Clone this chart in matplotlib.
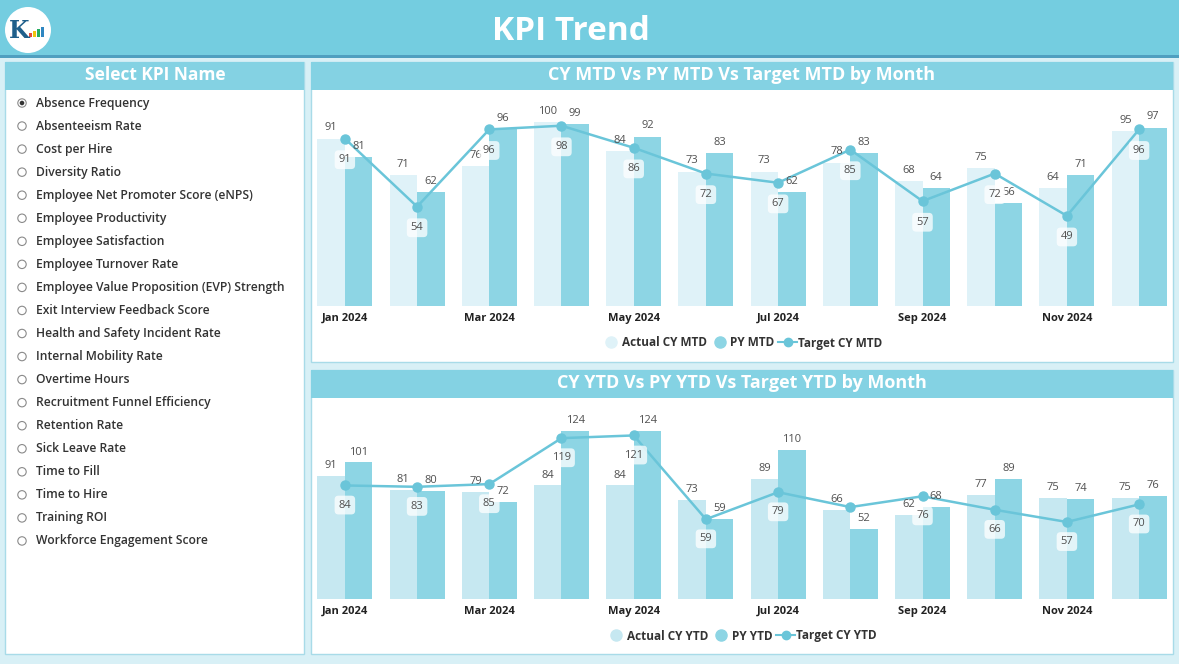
import numpy as np
import matplotlib
matplotlib.use("Agg")
import matplotlib.pyplot as plt
from matplotlib.patches import Rectangle, Circle
from matplotlib.lines import Line2D

plt.rcParams['font.family'] = ['Open Sans', 'DejaVu Sans']

# Data
months = ['Jan 2024', 'Feb 2024', 'Mar 2024', 'Apr 2024', 'May 2024', 'Jun 2024',
          'Jul 2024', 'Aug 2024', 'Sep 2024', 'Oct 2024', 'Nov 2024', 'Dec 2024']

actual_mtd = [91, 71, 76, 100, 84, 73, 73, 78, 68, 75, 64, 95]
py_mtd = [81, 62, 96, 99, 92, 83, 62, 83, 64, 56, 71, 97]
target_mtd = [91, 54, 96, 98, 86, 72, 67, 85, 57, 72, 49, 96]

actual_ytd = [91, 81, 79, 84, 84, 73, 89, 66, 62, 77, 75, 75]
py_ytd = [101, 80, 72, 124, 124, 59, 110, 52, 68, 89, 74, 76]
target_ytd = [84, 83, 85, 119, 121, 59, 79, 68, 76, 66, 57, 70]

kpi_names = ['Absence Frequency', 'Absenteeism Rate', 'Cost per Hire', 'Diversity Ratio',
             'Employee Net Promoter Score (eNPS)', 'Employee Productivity',
             'Employee Satisfaction', 'Employee Turnover Rate',
             'Employee Value Proposition (EVP) Strength', 'Exit Interview Feedback Score',
             'Health and Safety Incident Rate', 'Internal Mobility Rate', 'Overtime Hours',
             'Recruitment Funnel Efficiency', 'Retention Rate', 'Sick Leave Rate',
             'Time to Fill', 'Time to Hire', 'Training ROI', 'Workforce Engagement Score']

# Colours
bg = '#d8f0f6'
header = '#74cde0'
header_line = '#4f9fc0'
title_bar = '#84d2e3'
panel_edge = '#a8dbe8'
light_top = '#dff2f8'
light_bot = '#c6e8f1'
dark_bar = '#8dd5e4'
line_col = '#6ac5d9'
txt = '#505050'

W, H = 1179, 664
fig = plt.figure(figsize=(W / 100, H / 100), dpi=100)
fig.patch.set_facecolor(bg)

# background canvas in pixel coordinates
bgax = fig.add_axes([0, 0, 1, 1], zorder=0)
bgax.set_xlim(0, W)
bgax.set_ylim(H, 0)
bgax.axis('off')


def px_axes(x, y, w, h):
    return fig.add_axes([x / W, 1 - (y + h) / H, w / W, h / H], zorder=2)


# header
bgax.add_patch(Rectangle((0, 0), W, 56, facecolor=header, edgecolor='none'))
bgax.add_patch(Rectangle((0, 55), W, 2.5, facecolor=header_line, edgecolor='none'))
bgax.text(571, 31, 'KPI Trend', color='white', fontsize=24, fontweight='bold',
          ha='center', va='center')

# logo
bgax.add_patch(Circle((28, 30), 23, facecolor='white', edgecolor='none'))
bgax.text(19, 31, 'K', color='#1f5f8b', fontsize=17, fontweight='bold',
          ha='center', va='center', family='DejaVu Serif')
for i, (hh, c) in enumerate(zip([4, 6, 8, 10], ['#e84c3d', '#f1c40f', '#27ae60', '#2e86c1'])):
    bgax.add_patch(Rectangle((29 + i * 4, 37 - hh), 3, hh, facecolor=c, edgecolor='none'))

# left panel
bgax.add_patch(Rectangle((5, 62), 299, 592, facecolor='white', edgecolor=panel_edge, linewidth=1))
bgax.add_patch(Rectangle((5, 62), 299, 28, facecolor=title_bar, edgecolor='none'))
bgax.text(155, 75, 'Select KPI Name', color='white', fontsize=12.5, fontweight='bold',
          ha='center', va='center')
for i, name in enumerate(kpi_names):
    yy = 103 + i * 23.05
    bgax.add_patch(Circle((22, yy), 4.2, facecolor='white', edgecolor='#8a8a8a', linewidth=0.8))
    if i == 0:
        bgax.add_patch(Circle((22, yy), 2.3, facecolor='#333333', edgecolor='none'))
    bgax.text(36, yy, name, color='#333333', fontsize=8.7, fontweight='semibold',
              ha='left', va='center')


def chart(top, height, title, actual, py, target, light, ymax, names, skip_target=()):
    bgax.add_patch(Rectangle((311, top), 862, height, facecolor='white',
                             edgecolor=panel_edge, linewidth=1))
    bgax.add_patch(Rectangle((311, top), 862, 28, facecolor=title_bar, edgecolor='none'))
    bgax.text(742, top + 13, title, color='white', fontsize=13, fontweight='bold',
              ha='center', va='center')

    ax_top = top + 33
    bottom = top + 244 if height > 290 else top + 229
    ax = px_axes(316, ax_top, 852, bottom - ax_top)
    x = np.arange(len(months))
    w = 0.38
    ax.bar(x - w / 2, actual, w, color=light, zorder=1)
    ax.bar(x + w / 2, py, w, color=dark_bar, zorder=1)
    ax.plot(x, target, color=line_col, linewidth=1.8, marker='o', markersize=6.5, zorder=3)

    ax.set_xlim(-0.4, 11.4)
    ax.set_ylim(0, ymax)
    off = ymax * 0.025
    for i in range(len(x)):
        ax.text(x[i] - w / 2, actual[i] + off, str(actual[i]), ha='center', va='bottom',
                fontsize=8, color=txt, zorder=4)
        ax.text(x[i] + w / 2, py[i] + off, str(py[i]), ha='center', va='bottom',
                fontsize=8, color=txt, zorder=4)
        if i in skip_target:
            continue
        ax.text(x[i], target[i] - ymax * 0.1, str(target[i]), ha='center', va='center',
                fontsize=8, color=txt, zorder=5,
                bbox=dict(boxstyle='round,pad=0.35', facecolor='white', alpha=0.75,
                          edgecolor='none'))

    ax.set_xticks(x[::2])
    ax.set_xticklabels(months[::2], fontsize=8, fontweight='bold', color='#222222')
    ax.tick_params(axis='x', length=0, pad=5)
    ax.set_yticks([])
    for s in ax.spines.values():
        s.set_visible(False)
    ax.patch.set_alpha(0)

    handles = [
        Line2D([], [], marker='o', linestyle='none', markersize=8, color=light),
        Line2D([], [], marker='o', linestyle='none', markersize=8, color=dark_bar),
        Line2D([], [], marker='o', linestyle='-', markersize=6, linewidth=1.5, color=line_col),
    ]
    leg_y = bottom + 37
    leg = ax.legend(handles, names, loc='center',
                    bbox_to_anchor=(742 / W, 1 - leg_y / H), bbox_transform=fig.transFigure,
                    ncol=3, frameon=False, handlelength=1.6, handletextpad=0.1,
                    columnspacing=0.3, prop={'weight': 'bold', 'size': 8.5})
    for t in leg.get_texts():
        t.set_color('#333333')


chart(62, 300, 'CY MTD Vs PY MTD Vs Target MTD by Month',
      actual_mtd, py_mtd, target_mtd, light_top, 114.7,
      ['Actual CY MTD', 'PY MTD', 'Target CY MTD'])
chart(370, 284, 'CY YTD Vs PY YTD Vs Target YTD by Month',
      actual_ytd, py_ytd, target_ytd, light_bot, 145,
      ['Actual CY YTD', 'PY YTD', 'Target CY YTD'], skip_target=(7,))

fig.savefig('out.png', dpi=100, facecolor=fig.get_facecolor())
